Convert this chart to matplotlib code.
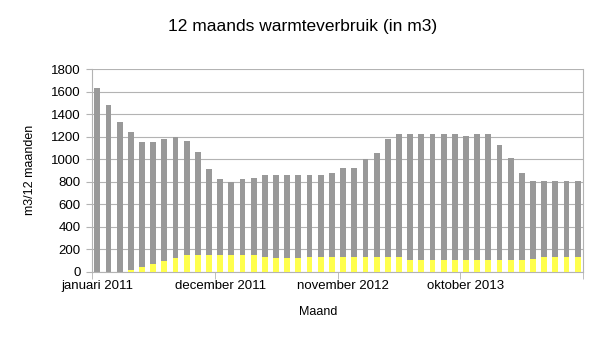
import numpy as np
import matplotlib.pyplot as plt

plt.rcParams['font.family'] = ['Liberation Sans', 'DejaVu Sans']

# 12 month rolling heat usage, jan 2011 .. aug 2014
months = ['januari 2011', 'december 2011', 'november 2012', 'oktober 2013']
label_idx = [0, 11, 22, 33]

totaal = [1630, 1480, 1335, 1243, 1157, 1155, 1184, 1196, 1166, 1066,
          912, 826, 799, 829, 835, 858, 858, 858, 858, 858,
          858, 879, 920, 926, 1003, 1054, 1184, 1225, 1225, 1225,
          1225, 1225, 1225, 1208, 1225, 1225, 1131, 1015, 876, 811,
          811, 811, 811, 811]
zomer = [0, 0, 0, 15, 44, 71, 98, 124, 148, 148,
         148, 148, 148, 148, 148, 130, 128, 128, 128, 130,
         130, 130, 130, 130, 130, 130, 130, 130, 108, 107,
         107, 107, 107, 106, 106, 106, 106, 106, 108, 115,
         130, 130, 130, 130]

x = np.arange(len(totaal))

fig = plt.figure(figsize=(6.05, 3.4), dpi=100)
ax = fig.add_axes([91.7 / 605, 1 - 272 / 340, (583.3 - 91.7) / 605, (272 - 69.3) / 340])

ax.bar(x, totaal, width=0.52, color='#999999', zorder=2)
ax.bar(x, zomer, width=0.52, color='#ffff4d', zorder=3)

ax.set_xlim(-0.5, len(totaal) - 0.5)
ax.set_ylim(0, 1800)
ax.set_yticks(range(0, 1801, 200))
ax.grid(axis='y', color='#b3b3b3', linewidth=0.8, zorder=0)

# labels on the category, ticks on the boundaries
ax.set_xticks(label_idx)
ax.set_xticklabels(months)
ax.set_xticks(np.arange(-0.5, len(totaal), 11), minor=True)
ax.tick_params(axis='x', which='major', length=0, pad=6)
ax.tick_params(axis='x', which='minor', length=5, color='#b3b3b3')
ax.tick_params(axis='y', length=4, color='#b3b3b3', pad=4)
ax.tick_params(labelsize=9.5)

ax.spines['top'].set_visible(False)
for s in ['left', 'right', 'bottom']:
    ax.spines[s].set_color('#b3b3b3')
    ax.spines[s].set_linewidth(0.8)

fig.text(0.5, 1 - 27 / 340, '12 maands warmteverbruik (in m3)', ha='center', va='center', fontsize=12.5)
fig.text(30 / 605, 1 - 170 / 340, 'm3/12 maanden', rotation=90, ha='center', va='center', fontsize=9)
fig.text(318 / 605, 1 - 312 / 340, 'Maand', ha='center', va='center', fontsize=9)

fig.savefig('out.png', dpi=100)
